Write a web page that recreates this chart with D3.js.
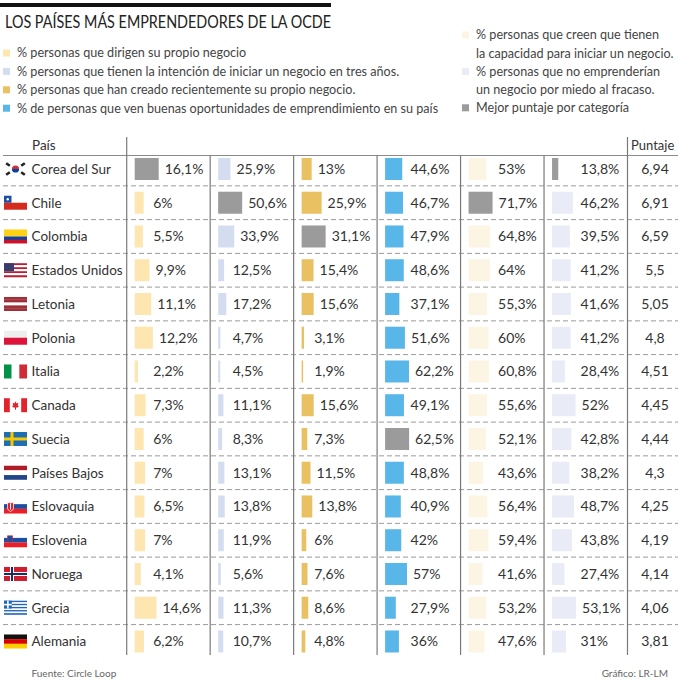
<!DOCTYPE html>
<html><head><meta charset="utf-8">
<script src="https://cdn.jsdelivr.net/npm/d3@7"></script>
<style>
html,body{margin:0;padding:0;background:#fff;}
svg{display:block;font-family:Lato,"Open Sans",sans-serif;}
</style></head>
<body><svg id="c" width="678" height="680"></svg>
<script>
const countries = ["Corea del Sur","Chile","Colombia","Estados Unidos","Letonia","Polonia","Italia","Canada","Suecia","Países Bajos","Eslovaquia","Eslovenia","Noruega","Grecia","Alemania"];
const flagCodes = ["kr","cl","co","us","lv","pl","it","ca","se","nl","sk","si","no","gr","de"];
const dirigen = [16.1, 6, 5.5, 9.9, 11.1, 12.2, 2.2, 7.3, 6, 7, 6.5, 7, 4.1, 14.6, 6.2];
const intencion = [25.9, 50.6, 33.9, 12.5, 17.2, 4.7, 4.5, 11.1, 8.3, 13.1, 13.8, 11.9, 5.6, 11.3, 10.7];
const creado = [13, 25.9, 31.1, 15.4, 15.6, 3.1, 1.9, 15.6, 7.3, 11.5, 13.8, 6, 7.6, 8.6, 4.8];
const oportunidades = [44.6, 46.7, 47.9, 48.6, 37.1, 51.6, 62.2, 49.1, 62.5, 48.8, 40.9, 42, 57, 27.9, 36];
const capacidad = [53, 71.7, 64.8, 64, 55.3, 60, 60.8, 55.6, 52.1, 43.6, 56.4, 59.4, 41.6, 53.2, 47.6];
const miedo = [13.8, 46.2, 39.5, 41.2, 41.6, 41.2, 28.4, 52, 42.8, 38.2, 48.7, 43.8, 27.4, 53.1, 31];
const puntaje = [6.94, 6.91, 6.59, 5.5, 5.05, 4.8, 4.51, 4.45, 4.44, 4.3, 4.25, 4.19, 4.14, 4.06, 3.81];

const seriesKeys = ["dirigen","intencion","creado","oportunidades","capacidad","miedo"];
const seriesValues = [dirigen, intencion, creado, oportunidades, capacidad, miedo];
const seriesColors = ["#fde6b0","#d4ddef","#e9c062","#58b6e8","#fdf5e3","#e9ebf6"];
const bestIsMin = [false,false,false,false,false,true];
const bestColor = "#9b9b9b";
const legendLeft = [
  "% personas que dirigen su propio negocio",
  "% personas que tienen la intención de iniciar un negocio en tres años.",
  "% personas que han creado recientemente su propio negocio.",
  "% de personas que ven buenas oportunidades de emprendimiento en su país"];
const legendRight = [
  ["% personas que creen que tienen","la capacidad para iniciar un negocio."],
  ["% personas que no emprenderían","un negocio por miedo al fracaso."],
  ["Mejor puntaje por categoría"]];
const title = "LOS PAÍSES MÁS EMPRENDEDORES DE LA OCDE";

const svg = d3.select("#c");
const fmt = v => String(v).replace(".", ",");
const txt = "#333";

// title
svg.append("rect").attr("x",0).attr("y",3).attr("width",331).attr("height",4).attr("fill","#111");
svg.append("text").attr("x",5).attr("y",28).attr("font-size",16.5).attr("fill","#222")
  .attr("textLength",326).attr("lengthAdjust","spacingAndGlyphs").text(title);

// legend left
legendLeft.forEach((t,i)=>{
  const cy = 53 + i*18.4;
  svg.append("rect").attr("x",3).attr("y",cy-3.5).attr("width",7).attr("height",7).attr("fill",seriesColors[i]);
  svg.append("text").attr("x",17).attr("y",cy+4.3).attr("font-size",12.6).attr("fill","#444").text(t);
});
// legend right
const rightCols = [seriesColors[4], seriesColors[5], bestColor];
let ly = 35;
legendRight.forEach((lines,i)=>{
  svg.append("rect").attr("x",462).attr("y",ly-3.5).attr("width",7).attr("height",7).attr("fill",rightCols[i]);
  lines.forEach((t,j)=>{
    svg.append("text").attr("x",476).attr("y",ly+4.3).attr("font-size",12.6).attr("fill","#444").text(t);
    ly += 18.2;
  });
});

// scales
const y = d3.scaleBand().domain(countries).range([152.1, 152.1 + 33.75*countries.length]);
const x = d3.scaleBand().domain(seriesKeys).range([126.7, 627.5]);
const barMax = 24, barOff = 8, barH = 22;
const labelMin = [26.5, 22.5, 20.5, 33.5, 37.5, 36.5];

// header
svg.append("text").attr("x",32).attr("y",150).attr("font-size",13.5).attr("fill",txt).text("País");
svg.append("text").attr("x",631).attr("y",150).attr("font-size",13).attr("fill",txt).text("Puntaje");
svg.append("line").attr("x1",3).attr("x2",678).attr("y1",155.5).attr("y2",155.5).attr("stroke","#8a8a8a").attr("stroke-width",1);

// dashed row separators
countries.slice(0,-1).forEach(c=>{
  const yy = y(c) + y.bandwidth();
  svg.append("line").attr("x1",3).attr("x2",678).attr("y1",yy).attr("y2",yy)
    .attr("stroke","#9a9a9a").attr("stroke-width",1).attr("stroke-dasharray","5,3");
});

// vertical separators
const gridBottom = 655;
svg.append("line").attr("x1",x.range()[0]).attr("x2",x.range()[0]).attr("y1",137).attr("y2",gridBottom).attr("stroke","#7a7a7a").attr("stroke-width",1.2);
svg.append("line").attr("x1",x.range()[1]).attr("x2",x.range()[1]).attr("y1",137).attr("y2",gridBottom).attr("stroke","#7a7a7a").attr("stroke-width",1.2);
seriesKeys.slice(1).forEach(k=>{
  svg.append("line").attr("x1",x(k)).attr("x2",x(k)).attr("y1",155.5).attr("y2",gridBottom).attr("stroke","#7a7a7a").attr("stroke-width",1.2);
});

// bars and labels
seriesKeys.forEach((k,si)=>{
  const vals = seriesValues[si];
  const s = d3.scaleLinear().domain([0, d3.max(vals)]).range([0, barMax]);
  const best = bestIsMin[si] ? d3.minIndex(vals) : d3.maxIndex(vals);
  const g = svg.append("g");
  g.selectAll("rect").data(vals).join("rect")
    .attr("x", x(k)+barOff)
    .attr("y", (d,i)=> y(countries[i]) + y.bandwidth()/2 - barH/2)
    .attr("width", d=> s(d))
    .attr("height", barH)
    .attr("fill", (d,i)=> i===best ? bestColor : seriesColors[si]);
  g.selectAll("text").data(vals).join("text")
    .attr("x", d=> Math.max(x(k)+labelMin[si], x(k)+barOff+s(d)+6))
    .attr("y", (d,i)=> y(countries[i]) + y.bandwidth()/2 + 5)
    .attr("font-size",14).attr("fill",txt)
    .text(d=> fmt(d)+"%");
});

// puntaje
svg.append("g").selectAll("text").data(puntaje).join("text")
  .attr("x", 655).attr("text-anchor","middle")
  .attr("y", (d,i)=> y(countries[i]) + y.bandwidth()/2 + 5)
  .attr("font-size",14).attr("fill",txt).text(d=>fmt(d));

// country names
svg.append("g").selectAll("text").data(countries).join("text")
  .attr("x",31.5).attr("y", c=> y(c)+y.bandwidth()/2+5)
  .attr("font-size",13.5).attr("fill",txt).text(c=>c);

// flags
const FW=23, FH=14;
function stripesH(g, cols){ const h=FH/cols.length; cols.forEach((c,i)=>g.append("rect").attr("x",0).attr("y",i*h).attr("width",FW).attr("height",h+0.05).attr("fill",c)); }
function stripesV(g, cols){ const w=FW/cols.length; cols.forEach((c,i)=>g.append("rect").attr("x",i*w).attr("y",0).attr("width",w+0.05).attr("height",FH).attr("fill",c)); }
function drawFlag(g, code){
  switch(code){
    case "kr":{
      g.append("rect").attr("width",FW).attr("height",FH).attr("fill","#fff");
      const cx=11.5, cy=7, r=3.6;
      g.append("path").attr("d",`M${cx-r},${cy} A${r},${r} 0 0 1 ${cx+r},${cy} Z`).attr("fill","#cd2e3a");
      g.append("path").attr("d",`M${cx-r},${cy} A${r},${r} 0 0 0 ${cx+r},${cy} Z`).attr("fill","#0047a0");
      [[4,2.5,35],[19,2.5,-35],[4,11.5,-35],[19,11.5,35]].forEach(([px,py,a])=>{
        g.append("rect").attr("x",px-2.2).attr("y",py-1.3).attr("width",4.4).attr("height",2.6).attr("fill","#222").attr("transform",`rotate(${a},${px},${py})`);
      });
      break;}
    case "cl":
      g.append("rect").attr("width",FW).attr("height",FH/2).attr("fill","#fff");
      g.append("rect").attr("y",FH/2).attr("width",FW).attr("height",FH/2).attr("fill","#d52b1e");
      g.append("rect").attr("width",7.5).attr("height",FH/2).attr("fill","#1f4fa0");
      g.append("circle").attr("cx",3.75).attr("cy",3.5).attr("r",1.2).attr("fill","#fff");
      break;
    case "co":
      g.append("rect").attr("width",FW).attr("height",FH/2).attr("fill","#fcd116");
      g.append("rect").attr("y",FH/2).attr("width",FW).attr("height",FH/4).attr("fill","#1b3f91");
      g.append("rect").attr("y",FH*3/4).attr("width",FW).attr("height",FH/4).attr("fill","#ce1126");
      break;
    case "us":
      stripesH(g, ["#b22234","#fff","#b22234","#fff","#b22234","#fff","#b22234"]);
      g.append("rect").attr("width",10).attr("height",8).attr("fill","#3c3b6e");
      break;
    case "lv":
      stripesH(g, ["#9e3039","#9e3039","#fff","#9e3039","#9e3039"]);
      break;
    case "pl":
      g.append("rect").attr("width",FW).attr("height",FH/2).attr("fill","#eee");
      g.append("rect").attr("y",FH/2).attr("width",FW).attr("height",FH/2).attr("fill","#dc143c");
      break;
    case "it": stripesV(g, ["#009246","#fff","#ce2b37"]); break;
    case "ca":
      g.append("rect").attr("width",FW).attr("height",FH).attr("fill","#fff");
      g.append("rect").attr("width",5.8).attr("height",FH).attr("fill","#e4222c");
      g.append("rect").attr("x",FW-5.8).attr("width",5.8).attr("height",FH).attr("fill","#e4222c");
      g.append("path").attr("d","M11.5,3 L12.6,5.3 L14.4,4.6 L13.7,7.6 L15.2,7.4 L13.6,9.3 L12,9.3 L12,11.5 L11,11.5 L11,9.3 L9.4,9.3 L7.8,7.4 L9.3,7.6 L8.6,4.6 L10.4,5.3 Z").attr("fill","#e4222c");
      break;
    case "se":
      g.append("rect").attr("width",FW).attr("height",FH).attr("fill","#1d6fb3");
      g.append("rect").attr("x",6.5).attr("width",3).attr("height",FH).attr("fill","#f6c900");
      g.append("rect").attr("y",5.5).attr("width",FW).attr("height",3).attr("fill","#f6c900");
      break;
    case "nl": stripesH(g, ["#ae1c28","#fff","#21468b"]); break;
    case "sk":
      stripesH(g, ["#fff","#1c4fa0","#ee1c25"]);
      g.append("path").attr("d","M3.5,3.2 H9.5 V8.5 Q9.5,11 6.5,12 Q3.5,11 3.5,8.5 Z").attr("fill","#ee1c25").attr("stroke","#fff").attr("stroke-width",0.7);
      g.append("rect").attr("x",6).attr("y",4).attr("width",1).attr("height",6).attr("fill","#fff");
      break;
    case "si":
      stripesH(g, ["#fff","#1c4fa0","#ee1c25"]);
      g.append("path").attr("d","M3.5,2.5 H8.5 V6.5 Q8.5,8.5 6,9.3 Q3.5,8.5 3.5,6.5 Z").attr("fill","#1c4fa0").attr("stroke","#ee1c25").attr("stroke-width",0.6);
      break;
    case "no":
      g.append("rect").attr("width",FW).attr("height",FH).attr("fill","#d01c2f");
      g.append("rect").attr("x",6).attr("width",4).attr("height",FH).attr("fill","#fff");
      g.append("rect").attr("y",5).attr("width",FW).attr("height",4).attr("fill","#fff");
      g.append("rect").attr("x",7).attr("width",2).attr("height",FH).attr("fill","#1f2a5c");
      g.append("rect").attr("y",6).attr("width",FW).attr("height",2).attr("fill","#1f2a5c");
      break;
    case "gr":{
      const cols=[]; for(let i=0;i<9;i++) cols.push(i%2?"#fff":"#1f66b7");
      stripesH(g, cols);
      const ch = FH*5/9;
      g.append("rect").attr("width",ch).attr("height",ch).attr("fill","#1f66b7");
      g.append("rect").attr("x",ch/2-0.8).attr("width",1.6).attr("height",ch).attr("fill","#fff");
      g.append("rect").attr("y",ch/2-0.8).attr("width",ch).attr("height",1.6).attr("fill","#fff");
      break;}
    case "de": stripesH(g, ["#111","#dd0000","#ffce00"]); break;
  }
}
countries.forEach((c,i)=>{
  const g = svg.append("g").attr("transform",`translate(4,${y(c)+y.bandwidth()/2-FH/2})`);
  drawFlag(g, flagCodes[i]);
});

// footer
svg.append("text").attr("x",31.5).attr("y",677).attr("font-size",10).attr("fill","#666").text("Fuente: Circle Loop");
svg.append("text").attr("x",668).attr("y",677).attr("text-anchor","end").attr("font-size",10).attr("fill","#666").text("Gráfico: LR-LM");
</script></body></html>
